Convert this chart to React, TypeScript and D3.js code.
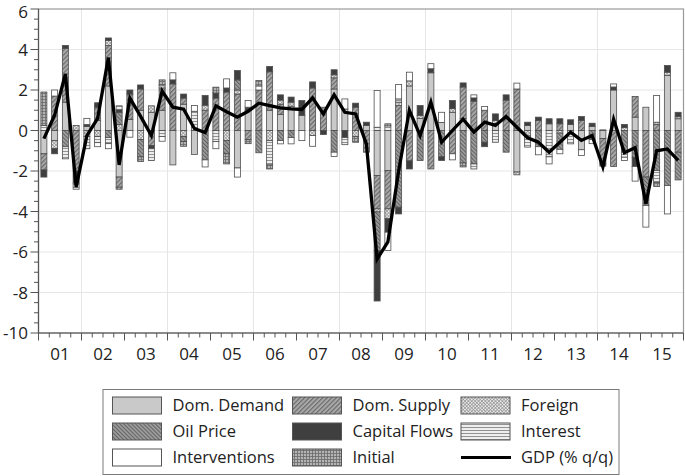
import React from 'react';
import * as d3 from 'd3';

const years = ['01','02','03','04','05','06','07','08','09','10','11','12','13','14','15'];
const qNames = ['Q1','Q2','Q3','Q4'];
const quarters = years.flatMap(y => qNames.map(q => `20${y}${q}`));

const seriesKeys = ['domDemand','domSupply','foreign','oilPrice','capitalFlows','interest','interventions','initial'];
const seriesLabels = ['Dom. Demand','Dom. Supply','Foreign','Oil Price','Capital Flows','Interest','Interventions','Initial'];

const domDemand = [-1.15,-0.5,1.4,0,0.2,0.5,2.2,-2.3,0.55,1.0,0.9,1.0,-1.7,1.3,-1.18,0,0,0,-1.85,1.0,0,1.0,0.8,1.2,0.75,0,0,2.05,1.06,0,0.25,-2.22,-1.98,0,2.2,0.6,2.85,0.4,0.9,0.6,0,0,0.35,0,-2.05,0.25,0,0.33,0,0.3,-0.95,0.2,-0.4,2.0,0,0.66,1.15,0,2.72,0.58];
const domSupply = [-0.8,1.7,2.65,-2.0,0,0.65,2.0,-0.5,1.25,1.05,-0.75,1.1,2.3,0.3,0,1.0,1.6,1.9,1.8,-0.45,2.0,1.9,0.5,0,0,2.1,1.15,0.55,0,1.15,-1.07,-1.65,-1.89,1.23,-1.5,0,-1.9,0,-1.15,1.55,1.45,1.0,0,1.5,2.05,0,0.5,0,0.33,0,0.5,0,-1.23,-1.78,0,1.02,-2.3,0.3,0,-1.07];
const foreign = [0,-0.4,0,0.25,-0.3,-0.3,0.25,0.3,0,-0.45,0.32,0.15,0,-0.3,0,0.25,0,-0.5,0.2,0,0,-0.5,0.2,0.2,0,-0.25,0,0.15,0,-0.3,0,-0.15,-0.49,0.17,0.25,0.15,0,0,0.18,0,0,0,0.15,0,-0.14,-0.27,0,0,-0.13,0,0,0,0,0,0.15,0,0,0.11,0.16,0.1];
const oilPrice = [0,0,-0.8,0,0,0,-0.35,0.6,0,-0.85,0,0,0,-0.25,0,-1.45,0,-0.65,0.5,0,-1.1,0,-0.5,-0.35,0,0,0,-1.07,0,0,0,-1.9,0,-3.79,0,-1.48,0,-1.3,0,-1.6,-1.65,-0.58,0,-1.07,0,0,-0.8,0,-0.8,0,0,-0.45,0,0,-1.07,-1.32,-1.4,-1.98,-2.72,-1.37];
const capitalFlows = [-0.35,-0.25,0.15,-0.6,0.1,0.22,0.12,0.12,0.2,0.2,-0.15,0,0.2,0.2,0,0.48,0.25,0.2,0.46,0.15,0,0.26,0.26,0.25,0.73,0.3,-0.2,0.25,-0.35,0.2,0.16,-2.5,-0.66,-0.33,-0.4,0.48,0.2,-0.18,0.4,0.2,0.16,-0.22,0.32,0.26,0,0.16,0.16,0.25,0.25,0.23,0.19,0.16,-0.13,0.15,0.15,-0.46,0,0,0.33,0.22];
const interest = [0.25,0,-0.6,-0.3,-0.6,-0.3,-0.3,0.2,0,0,-0.58,-0.3,0,0,0.95,0,-0.55,0,0,0,0,-1.2,0,0,0,0,0,0,-0.35,0,0,0.16,0.23,0.16,0,0,0,0,0,0,-0.25,0,-0.58,0,0,-0.55,0,-1.3,0,-0.66,0,0,0,0,-0.25,0,0,-0.58,0,0];
const interventions = [0,0.3,0,0,0.3,-0.2,-0.25,0,-0.33,0,0,-0.23,0.35,0,0.28,-0.35,-0.35,0.45,-0.45,0.33,0.2,0,-0.16,-0.31,-0.5,-0.53,0,-0.21,0.5,0,0,1.82,-0.91,0.71,0.43,0,0.25,0.5,-0.3,0,0.15,0.19,0,0,0.29,0,-0.4,-0.35,-0.22,0,-0.28,-0.2,0,0.15,-0.16,-0.72,-1.07,1.32,-1.4,0];
const initial = [1.65,0,0,0,0,0,0,-0.1,0,-0.23,0,0.25,0,-0.23,0,0,0.29,-0.5,0,-0.2,0.27,-0.2,0,0,0,0,0,0,0,-0.28,0,0,0.1,0,0,0,0,0,0,-0.2,0,0,0,0,0,0,0,0,0,0,0,0,0.03,0,0,0,0,-0.21,0,0];
const gdp = [-0.4,0.75,2.8,-2.8,-0.25,0.6,3.6,-1.7,1.6,0.7,-0.25,1.95,1.15,1.05,0.1,-0.1,1.22,0.93,0.66,0.95,1.35,1.23,1.12,1.07,1.04,1.61,0.82,1.76,0.9,0.82,-0.66,-6.35,-5.5,-2.0,1.0,-0.25,1.4,-0.58,0.0,0.56,-0.08,0.41,0.25,0.69,0.16,-0.36,-0.58,-1.07,-0.58,-0.08,-0.49,-0.25,-1.8,0.55,-1.1,-0.85,-3.62,-1.0,-0.91,-1.48];
const yTicks = [-10,-8,-6,-4,-2,0,2,4,6];

const seriesData = [domDemand, domSupply, foreign, oilPrice, capitalFlows, interest, interventions, initial];
const fills = ['#c9c9c9','url(#pDS)','url(#pFO)','url(#pOIL)','#3f3f3f','url(#pINT)','#ffffff','url(#pINIT)'];

const W = 685, H = 476;
const L = 38.5, R = 683.5, T = 9, B = 333;
const FONT = "'Open Sans', sans-serif";

export default function App() {
  const rows = quarters.map((q, i) => {
    const r: any = { q };
    seriesKeys.forEach((k, j) => { r[k] = seriesData[j][i]; });
    return r;
  });
  const stacked = d3.stack().keys(seriesKeys).offset(d3.stackOffsetDiverging)(rows);
  const x = d3.scaleBand().domain(quarters).range([L, R]).paddingInner(0.44).paddingOuter(0.22);
  const xt = d3.scaleLinear().domain([2001, 2016]).range([L, R]);
  const y = d3.scaleLinear().domain([-10, 6]).range([B, T]);
  const bw = x.bandwidth();
  const line = d3.line<number>().x((_, i) => (x(quarters[i]) as number) + bw / 2).y(d => y(d));

  const yMinor = d3.range(-10, 6.01, 0.5);
  const qTicks = d3.range(0, 61).map(k => 2001 + k / 4);
  const gridYears = [2002, 2004, 2006, 2008, 2010, 2012, 2014];

  const legendItems = [
    { label: seriesLabels[0], fill: fills[0] },
    { label: seriesLabels[1], fill: fills[1] },
    { label: seriesLabels[2], fill: fills[2] },
    { label: seriesLabels[3], fill: fills[3] },
    { label: seriesLabels[4], fill: fills[4] },
    { label: seriesLabels[5], fill: fills[5] },
    { label: seriesLabels[6], fill: fills[6] },
    { label: seriesLabels[7], fill: fills[7] },
    { label: 'GDP (% q/q)', fill: null },
  ];
  const colX = [112.5, 292.5, 461];
  const rowY = [405.5, 431.5, 457.5];

  return (
    <svg width={W} height={H} style={{ position: 'absolute', left: 0, top: 0, background: '#fff' }}>
      <defs>
        <pattern id="pDS" width="3.2" height="3.2" patternUnits="userSpaceOnUse" patternTransform="rotate(45)">
          <rect width="3.2" height="3.2" fill="#a9a9a9" />
          <line x1="0.6" y1="0" x2="0.6" y2="3.2" stroke="#666" strokeWidth="1.1" />
        </pattern>
        <pattern id="pOIL" width="2.8" height="2.8" patternUnits="userSpaceOnUse" patternTransform="rotate(-45)">
          <rect width="2.8" height="2.8" fill="#a2a2a2" />
          <line x1="0.6" y1="0" x2="0.6" y2="2.8" stroke="#5e5e5e" strokeWidth="1.1" />
        </pattern>
        <pattern id="pFO" width="2.4" height="2.4" patternUnits="userSpaceOnUse" patternTransform="rotate(45)">
          <rect width="2.4" height="2.4" fill="#f2f2f2" />
          <line x1="0" y1="0.5" x2="2.4" y2="0.5" stroke="#8a8a8a" strokeWidth="0.7" />
          <line x1="0.5" y1="0" x2="0.5" y2="2.4" stroke="#8a8a8a" strokeWidth="0.7" />
        </pattern>
        <pattern id="pINT" width="4" height="3" patternUnits="userSpaceOnUse">
          <rect width="4" height="3" fill="#eeeeee" />
          <line x1="0" y1="1.5" x2="4" y2="1.5" stroke="#7a7a7a" strokeWidth="0.8" />
        </pattern>
        <pattern id="pINIT" width="3" height="3" patternUnits="userSpaceOnUse">
          <rect width="3" height="3" fill="#b4b4b4" />
          <line x1="0" y1="0.5" x2="3" y2="0.5" stroke="#6a6a6a" strokeWidth="0.8" />
          <line x1="0.5" y1="0" x2="0.5" y2="3" stroke="#6a6a6a" strokeWidth="0.8" />
        </pattern>
      </defs>

      {/* grid */}
      {yTicks.filter(t => t > -10 && t < 6).map(t => (
        <line key={'gy' + t} x1={L} x2={R} y1={y(t)} y2={y(t)} stroke="#e6e6e6" strokeWidth={1} />
      ))}
      {gridYears.map(g => (
        <line key={'gx' + g} x1={xt(g)} x2={xt(g)} y1={T} y2={B} stroke="#e6e6e6" strokeWidth={1} />
      ))}
      <rect x={L} y={T} width={R - L} height={B - T} fill="none" stroke="#9a9a9a" strokeWidth={1.2} />

      {/* bars */}
      {stacked.map((s, j) => (
        <g key={s.key}>
          {s.map((d, i) => {
            const h = Math.abs(y(d[0]) - y(d[1]));
            if (h < 0.05) return null;
            return (
              <rect key={i} x={x(quarters[i])} y={Math.min(y(d[0]), y(d[1]))} width={bw} height={h}
                fill={fills[j]} stroke="#4e4e4e" strokeWidth={0.8} />
            );
          })}
        </g>
      ))}

      {/* GDP line */}
      <path d={line(gdp) as string} fill="none" stroke="#000" strokeWidth={3.3} strokeLinejoin="miter" />

      {/* axes */}
      <line x1={L} x2={L} y1={T} y2={B} stroke="#555" strokeWidth={1.2} />
      <line x1={L} x2={R} y1={B} y2={B} stroke="#555" strokeWidth={1.2} />
      {yMinor.map(t => {
        const major = Math.abs(t % 2) < 1e-9;
        return <line key={'yt' + t} x1={L - (major ? 8 : 4.5)} x2={L} y1={y(t)} y2={y(t)} stroke="#555" strokeWidth={1} />;
      })}
      {yTicks.map(t => (
        <text key={'yl' + t} x={28} y={y(t) + (t === 6 ? 2.6 : 0)} dy="0.36em" textAnchor="end" fontFamily={FONT} fontSize={17} fill="#222">{t}</text>
      ))}
      {qTicks.map((t, k) => {
        const major = k % 4 === 0;
        return <line key={'xt' + k} x1={xt(t)} x2={xt(t)} y1={B} y2={B + (major ? 7.5 : 4.5)} stroke="#555" strokeWidth={1} />;
      })}
      {years.map((yr, k) => (
        <text key={'xl' + yr} x={xt(2001 + k + 0.5)} y={359.5} textAnchor="middle" fontFamily={FONT} fontSize={17} fill="#222">{yr}</text>
      ))}

      {/* legend */}
      <rect x={103} y={389.5} width={516} height={85} fill="#fff" stroke="#7a7a7a" strokeWidth={1} />
      {legendItems.map((it, k) => {
        const col = k % 3, row = Math.floor(k / 3);
        const sx = colX[col], cy = rowY[row];
        return (
          <g key={'lg' + k}>
            {it.fill ? (
              <rect x={sx} y={cy - 8.5} width={49} height={17} fill={it.fill} stroke="#555" strokeWidth={1} />
            ) : (
              <line x1={sx} x2={sx + 50} y1={cy} y2={cy} stroke="#000" strokeWidth={3} />
            )}
            <text x={sx + 60} y={cy} dy="0.36em" fontFamily={FONT} fontSize={16.5} fill="#222">{it.label}</text>
          </g>
        );
      })}
    </svg>
  );
}
